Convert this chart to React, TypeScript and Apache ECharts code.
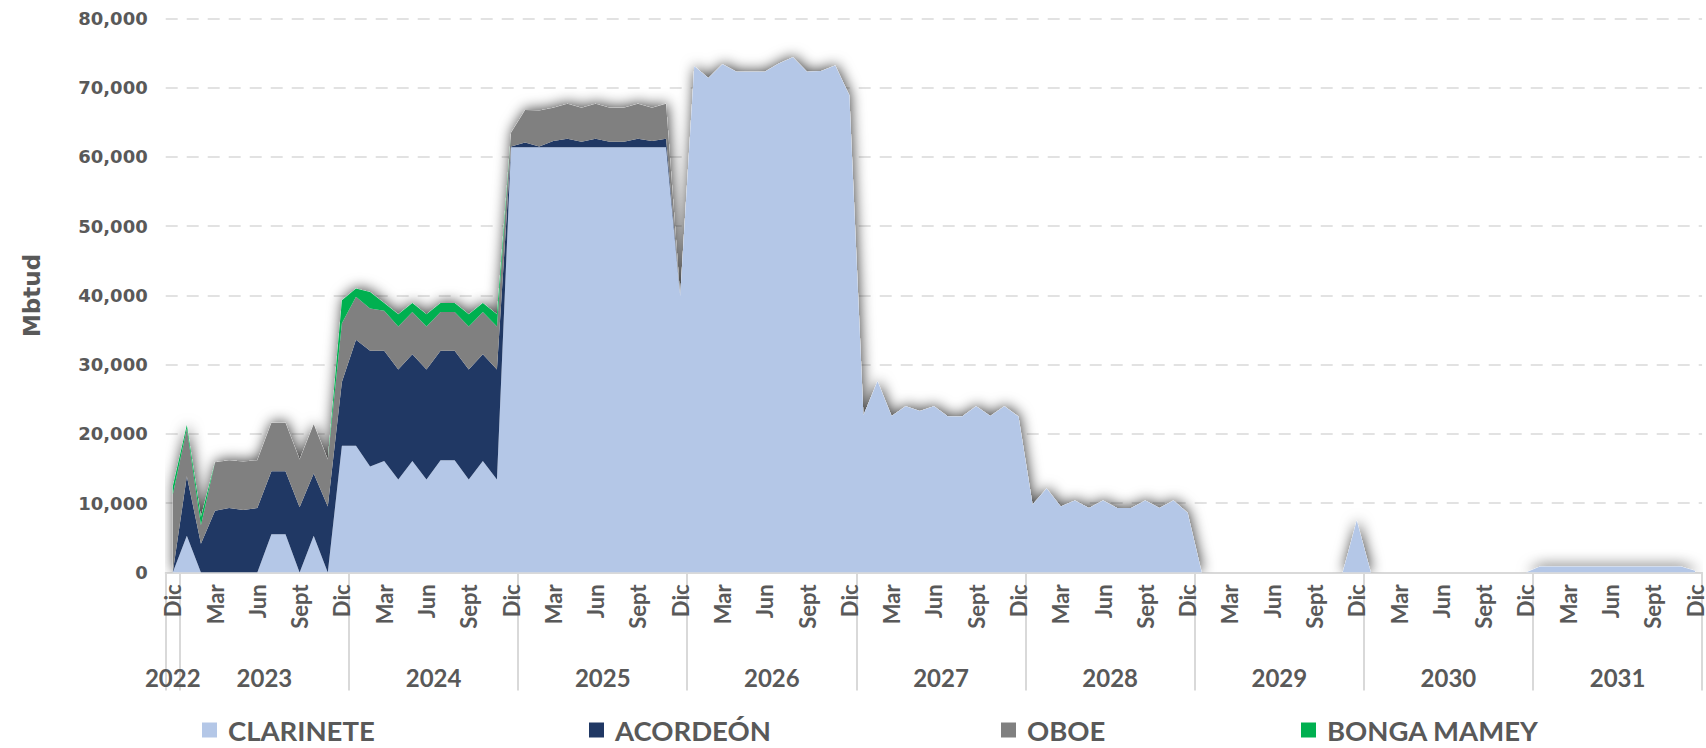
import React, { useEffect, useRef } from "react";
import * as echarts from "echarts";

// ---------- DATA ----------
const MONTHS = ["Ene", "Feb", "Mar", "Abr", "May", "Jun", "Jul", "Ago", "Sept", "Oct", "Nov", "Dic"];
const FIRST_YEAR = "2022";
const YEARS = ["2023", "2024", "2025", "2026", "2027", "2028", "2029", "2030", "2031"];
const Y_TICKS = [0, 10000, 20000, 30000, 40000, 50000, 60000, 70000, 80000];

const SERIES_NAMES = ["CLARINETE", "ACORDEÓN", "OBOE", "BONGA MAMEY"];

// Dic 2022, then Ene..Dic for 2023..2031
const CLARINETE = [
  0,
  5300, 0, 0, 0, 0, 0, 5500, 5500, 0, 5300, 0, 18300,
  18300, 15300, 16100, 13400, 16100, 13400, 16200, 16200, 13400, 16100, 13400, 61400,
  61400, 61400, 61400, 61400, 61400, 61400, 61400, 61400, 61400, 61400, 61400, 39900,
  73100, 71400, 73400, 72300, 72300, 72300, 73500, 74400, 72300, 72400, 73200, 68900,
  22700, 27600, 22600, 24000, 23300, 24000, 22500, 22500, 24000, 22600, 24000, 22500,
  9800, 12100, 9500, 10400, 9300, 10400, 9300, 9300, 10400, 9300, 10400, 8600,
  0, 0, 0, 0, 0, 0, 0, 0, 0, 0, 0, 7500,
  0, 0, 0, 0, 0, 0, 0, 0, 0, 0, 0, 0,
  850, 850, 850, 850, 850, 850, 850, 850, 850, 850, 850, 250,
];

const ACORDEON = [
  0,
  8600, 4150, 8900, 9300, 9000, 9300, 9100, 9100, 9400, 9000, 9500, 9200,
  15300, 16700, 15900, 15900, 15400, 15900, 15800, 15800, 15900, 15400, 15900, 100,
  700, 100, 900, 1250, 800, 1250, 800, 800, 1250, 900, 1250, 0,
  0, 0, 0, 0, 0, 0, 0, 0, 0, 0, 0, 0,
  0, 0, 0, 0, 0, 0, 0, 0, 0, 0, 0, 0,
  0, 0, 0, 0, 0, 0, 0, 0, 0, 0, 0, 0,
  0, 0, 0, 0, 0, 0, 0, 0, 0, 0, 0, 0,
  0, 0, 0, 0, 0, 0, 0, 0, 0, 0, 0, 0,
  0, 0, 0, 0, 0, 0, 0, 0, 0, 0, 0, 0,
];

const OBOE = [
  11200,
  6900, 2650, 7000, 6900, 7000, 6900, 7000, 7000, 6900, 7100, 6800, 8500,
  6200, 6100, 5800, 6200, 6100, 6200, 5600, 5600, 6200, 6100, 6200, 2000,
  4700, 5200, 4800, 5050, 4900, 5050, 4900, 4900, 5050, 4800, 5050, 0,
  0, 0, 0, 0, 0, 0, 0, 0, 0, 0, 0, 0,
  0, 0, 0, 0, 0, 0, 0, 0, 0, 0, 0, 0,
  0, 0, 0, 0, 0, 0, 0, 0, 0, 0, 0, 0,
  0, 0, 0, 0, 0, 0, 0, 0, 0, 0, 0, 0,
  0, 0, 0, 0, 0, 0, 0, 0, 0, 0, 0, 0,
  0, 0, 0, 0, 0, 0, 0, 0, 0, 0, 0, 0,
];

const BONGA_MAMEY = [
  1200,
  500, 1200, 0, 0, 0, 0, 0, 0, 0, 0, 0, 3300,
  1200, 2400, 1100, 1800, 1300, 1800, 1300, 1300, 1800, 1300, 1800, 0,
  0, 0, 0, 0, 0, 0, 0, 0, 0, 0, 0, 0,
  0, 0, 0, 0, 0, 0, 0, 0, 0, 0, 0, 0,
  0, 0, 0, 0, 0, 0, 0, 0, 0, 0, 0, 0,
  0, 0, 0, 0, 0, 0, 0, 0, 0, 0, 0, 0,
  0, 0, 0, 0, 0, 0, 0, 0, 0, 0, 0, 0,
  0, 0, 0, 0, 0, 0, 0, 0, 0, 0, 0, 0,
  0, 0, 0, 0, 0, 0, 0, 0, 0, 0, 0, 0,
];

// ---------- STYLE ----------
const COLORS = ["#b4c7e7", "#203864", "#808080", "#00b050"];
const TEXT = "#595959";
const GRIDC = "#d9d9d9";
const AXIS_FONT = "'DejaVu Sans', sans-serif";
const NARROW_FONT = "Lato, 'Noto Sans', sans-serif";
const LEGEND_X = [202, 589, 1001, 1301];

// categories
const CATS: string[] = [];
const CAT_MONTH: string[] = [];
const CAT_YEAR: string[] = [];
CATS.push("Dic " + FIRST_YEAR);
CAT_MONTH.push("Dic");
CAT_YEAR.push(FIRST_YEAR);
YEARS.forEach((y) => {
  MONTHS.forEach((m) => {
    CATS.push(m + " " + y);
    CAT_MONTH.push(m);
    CAT_YEAR.push(y);
  });
});

const SERIES_DATA = [CLARINETE, ACORDEON, OBOE, BONGA_MAMEY];
const TOTAL = CATS.map((_, i) => SERIES_DATA.reduce((s, arr) => s + arr[i], 0));

export default function App() {
  const ref = useRef<HTMLDivElement>(null);

  useEffect(() => {
    if (!ref.current) return;
    const chart = echarts.init(ref.current, null, { renderer: "svg" });

    const option: any = {
      animation: false,
      backgroundColor: "#ffffff",
      grid: { left: 165.7, right: -7.5, top: 18.5, bottom: 175.6, containLabel: false },
      legend: SERIES_NAMES.map((n, k) => ({
        data: [n],
        left: LEGEND_X[k],
        top: 716,
        padding: 0,
        icon: "rect",
        itemWidth: 15,
        itemHeight: 15,
        selectedMode: false,
        textStyle: {
          fontFamily: NARROW_FONT,
          fontWeight: "bold",
          fontSize: 27.5,
          color: TEXT,
          padding: [0, 0, 0, 6],
        },
      })),
      xAxis: [
        {
          type: "category",
          data: CATS,
          boundaryGap: true,
          position: "bottom",
          axisLine: { show: true, lineStyle: { color: GRIDC, width: 2 } },
          axisTick: { show: false },
          splitLine: { show: false },
          axisLabel: {
            interval: 2,
            rotate: 90,
            margin: 12,
            formatter: (_v: string, i: number) => CAT_MONTH[i],
            fontFamily: NARROW_FONT,
            fontWeight: "bold",
            fontSize: 22,
            color: TEXT,
          },
        },
        {
          type: "category",
          data: CATS,
          boundaryGap: true,
          position: "bottom",
          offset: 0,
          axisLine: { show: false },
          axisTick: {
            show: true,
            interval: (i: number) => i === 0 || (i - 1) % 12 === 0,
            length: 118,
            lineStyle: { color: GRIDC, width: 2 },
          },
          splitLine: { show: false },
          axisLabel: {
            interval: (i: number) => i === 0 || (i - 1) % 12 === 5,
            margin: 93,
            formatter: (_v: string, i: number) =>
              i === 0 ? `{a|${CAT_YEAR[i]}}` : `{b|${CAT_YEAR[i]}}`,
            rich: {
              a: { fontFamily: NARROW_FONT, fontWeight: "bold", fontSize: 24, color: TEXT },
              b: {
                fontFamily: NARROW_FONT,
                fontWeight: "bold",
                fontSize: 24,
                color: TEXT,
                padding: [0, 0, 0, 14.2],
              },
            },
          },
        },
      ],
      yAxis: {
        type: "value",
        min: Y_TICKS[0],
        max: Y_TICKS[Y_TICKS.length - 1],
        interval: Y_TICKS[1] - Y_TICKS[0],
        name: "Mbtud",
        nameLocation: "middle",
        nameRotate: 90,
        nameGap: 122,
        nameTextStyle: { fontFamily: AXIS_FONT, fontWeight: "bold", fontSize: 23, color: TEXT },
        axisLine: { show: false },
        axisTick: { show: false },
        axisLabel: {
          margin: 18,
          formatter: (v: number) => v.toLocaleString("en-US"),
          fontFamily: AXIS_FONT,
          fontWeight: "bold",
          fontSize: 18,
          color: TEXT,
        },
        splitLine: { show: true, lineStyle: { color: GRIDC, width: 1.6, type: [12, 9] } },
      },
      series: [
        {
          name: "_total",
          type: "line",
          data: TOTAL,
          symbol: "none",
          silent: true,
          z: 1,
          lineStyle: { width: 0, opacity: 0 },
          areaStyle: {
            color: "#ffffff",
            opacity: 1,
            shadowBlur: 14,
            shadowColor: "rgba(0,0,0,0.75)",
            shadowOffsetX: 1,
            shadowOffsetY: -1,
          },
        },
        ...SERIES_NAMES.map((n, k) => ({
          name: n,
          type: "line",
          stack: "total",
          data: SERIES_DATA[k],
          symbol: "none",
          showSymbol: false,
          z: 2,
          itemStyle: { color: COLORS[k] },
          lineStyle: { width: 0, color: COLORS[k] },
          areaStyle: { color: COLORS[k], opacity: 1 },
        })),
      ],
    };

    chart.setOption(option);
    return () => chart.dispose();
  }, []);

  return (
    <div
      ref={ref}
      style={{ position: "fixed", left: 0, top: 0, width: 1706, height: 748, background: "#fff" }}
    />
  );
}
